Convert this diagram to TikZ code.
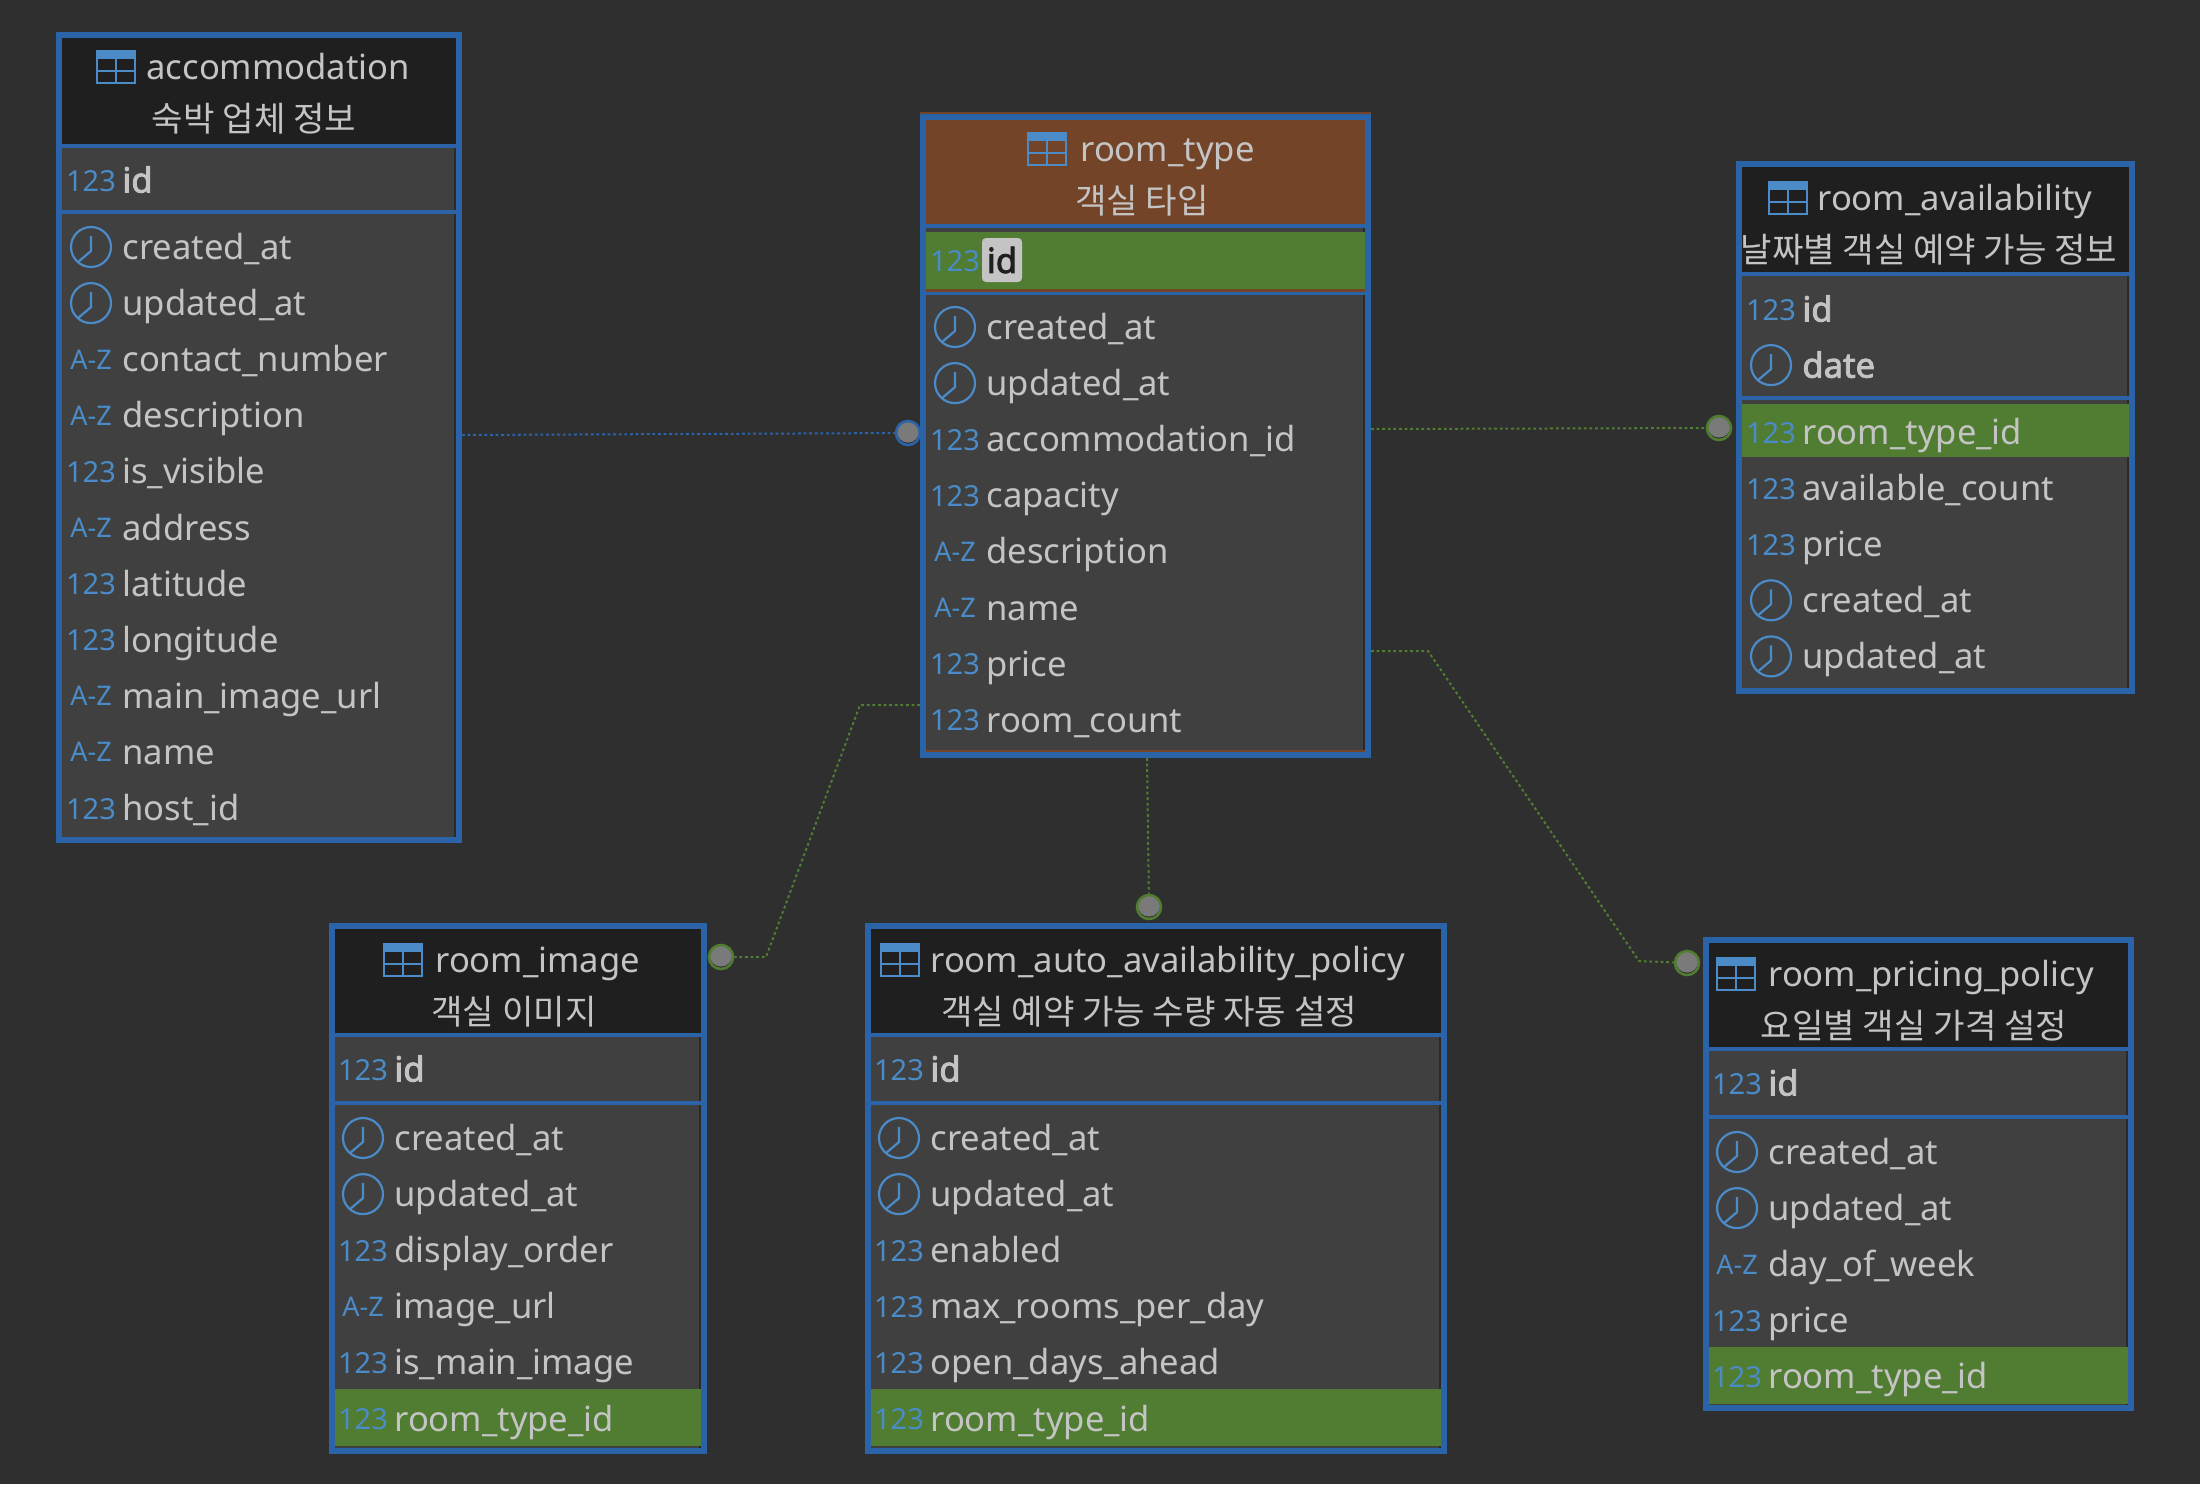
\documentclass[tikz,border=0pt]{standalone}
\usepackage{fontspec}
\setmainfont{Noto Sans}[AutoFakeBold=2.5]
\newfontfamily\krfont{Noto Sans CJK KR}

\definecolor{canvasgrey}{HTML}{2F2F2F}
\definecolor{rowgrey}{HTML}{404040}
\definecolor{rowedge}{HTML}{2A2A2A}
\definecolor{headdark}{HTML}{1F1F1F}
\definecolor{headbrown}{HTML}{744428}
\definecolor{frameblue}{HTML}{2B63A8}
\definecolor{iconblue}{HTML}{4A8BC8}
\definecolor{labelgrey}{HTML}{C4C4C4}
\definecolor{keygreen}{HTML}{507D31}
\definecolor{bulletgrey}{HTML}{7A7A7A}

\tikzset{
  tableframe/.style={draw=frameblue, line width=3pt, anchor=north west, inner sep=0pt, outer sep=0pt},
  sepline/.style={draw=frameblue, line width=2pt},
  iconline/.style={draw=iconblue, line width=1.1pt},
  clockdial/.style={circle, draw=iconblue, line width=1.1pt, minimum size=20pt, inner sep=0pt},
  typelabel/.style={text=iconblue, font=\fontsize{14.5}{16}\selectfont, anchor=base, inner sep=0pt},
  alphalabel/.style={typelabel, font=\fontsize{13.5}{16}\selectfont},
  fieldtext/.style={text=labelgrey, font=\fontsize{17.3}{20}\selectfont, anchor=base west, inner sep=0pt},
  subtext/.style={text=labelgrey, font=\krfont\fontsize{17.1}{18}\selectfont, anchor=base, inner sep=0pt},
  fklink/.style={draw=#1, line width=1pt, dash pattern=on 1.4pt off 1.4pt},
  fkbullet/.style={circle, draw=#1, line width=1.3pt, fill=rowedge, minimum size=12pt, inner sep=0pt,
    path picture={\fill[bulletgrey] ([yshift=0.8pt]path picture bounding box.center) circle (5.6pt);}}
}

% field type icons: node name, centre x, centre y
\newcommand{\iconnum}[3]{\node (#1) [typelabel] at ({#2},{#3+11}) {123};}
\newcommand{\iconalpha}[3]{\node (#1) [alphalabel] at ({#2},{#3+10}) {A-Z};}
\newcommand{\iconclock}[3]{%
  \node (#1) [clockdial] at ({#2},{#3}) {};
  \draw[iconline] ([yshift=5.5pt]#1.center) -- ([yshift=-2pt]#1.center) -- ([xshift=-6.5pt,yshift=-7.5pt]#1.center);
}

% frame: name, left, top, right, bottom, header colour, header line, key line
\newcommand{\dbframe}[8]{%
  \fill[rowgrey] (#2,#3) rectangle (#4,#5);
  \fill[#6] (#2,#3) rectangle (#4,#7);
  \draw[rowedge, line width=1pt] ({#4-7},#7) -- ({#4-7},#5);
  \draw[sepline] (#2,#7) -- (#4,#7);
  \draw[sepline] (#2,#8) -- (#4,#8);
  \node (#1) [tableframe, minimum width={(#4-#2-6)*0.5pt}, minimum height={(#5-#3-6)*0.5pt}] at ({#2+3},{#3+3}) {};
}

% title: name, icon left, title left, title y, title, subtitle centre x, subtitle
\newcommand{\dbtitle}[7]{%
  \begin{scope}[shift={(#2,{#4-16})}]
    \draw[iconline] (0,0) rectangle (38,32);
    \fill[iconblue] (0,0) rectangle (38,8);
    \draw[iconline] (0,20) -- (38,20);
    \draw[iconline] (19,0) -- (19,32);
  \end{scope}
  \node (#1-title) [fieldtext] at (#3,{#4+12.5}) {#5};
  \node (#1-sub) [subtext] at (#6,{#4+64}) {#7};
}

% rows: [font], name, left, first row y, list of type/text
\newcommand{\dbrows}[5][]{%
  \foreach \ftype/\fname [count=\rowno from 0] in {#5} {
    \csname icon\ftype\endcsname{#2-icon\rowno}{#3+35}{#4+56.1*\rowno}
    \node (#2-text\rowno) [fieldtext] at ({#3+66},{#4+56.1*\rowno+12.5}) {#1\fname};
  }
}

\begin{document}
\begin{tikzpicture}[x=0.5pt,y=-0.5pt]
    \fill[canvasgrey] (0,0) rectangle (2200,1484);
    \useasboundingbox (0,0) rectangle (2200,1484);

    % Table accommodation
    \dbframe{accom}{56}{32}{462}{843}{headdark}{146}{212}
    \dbtitle{accom}{97}{146}{67}{accommodation}{254}{숙박 업체 정보}
    \dbrows[\bfseries]{accomkey}{56}{180}{num/id}
    \dbrows{accom}{56}{247}{clock/created\_at, clock/updated\_at, alpha/contact\_number, alpha/description,
      num/is\_visible, alpha/address, num/latitude, num/longitude, alpha/main\_image\_url, alpha/name, num/host\_id}

    % Table room_type
    \fill[headbrown] (920,112) rectangle (1371,118);
    \dbframe{rtype}{920}{114}{1371}{758}{headbrown}{226}{293}
    \fill[keygreen] (926,232) rectangle (1365,290);
    \fill[headbrown] (926,289) rectangle (1365,292);
    \fill[headbrown] (926,750) rectangle (1365,752);
    \dbtitle{rtype}{1028}{1080}{149}{room\_type}{1142}{객실 타입}
    \iconnum{rtypekey-icon0}{955}{260}
    \node (rtypekey-text0) [fill=labelgrey, text=headdark, rounded corners=2pt, inner sep=0pt, minimum width=20pt, minimum height=22pt,
      font=\fontsize{17.3}{20}\selectfont\bfseries] at (1002,260) {id};
    \dbrows{rtype}{920}{327}{clock/created\_at, clock/updated\_at, num/accommodation\_id, num/capacity,
      alpha/description, alpha/name, num/price, num/room\_count}

    % Table room_availability
    \dbframe{avail}{1736}{161}{2135}{694}{headdark}{274}{398}
    \fill[keygreen] (1742,404) rectangle (2129,457);
    \dbtitle{avail}{1769}{1817}{198}{room\_availability}{1929}{날짜별 객실 예약 가능 정보}
    \dbrows[\bfseries]{availkey}{1736}{309}{num/id, clock/date}
    \dbrows{avail}{1736}{432}{num/room\_type\_id, num/available\_count, num/price, clock/created\_at, clock/updated\_at}

    % Table room_image
    \dbframe{rimage}{329}{923}{707}{1454}{headdark}{1035}{1103}
    \fill[keygreen] (335,1389) rectangle (701,1446);
    \dbtitle{rimage}{384}{435}{960}{room\_image}{514}{객실 이미지}
    \dbrows[\bfseries]{rimagekey}{328}{1069}{num/id}
    \dbrows{rimage}{328}{1138}{clock/created\_at, clock/updated\_at, num/display\_order, alpha/image\_url,
      num/is\_main\_image, num/room\_type\_id}

    % Table room_auto_availability_policy
    \dbframe{rauto}{865}{923}{1447}{1454}{headdark}{1035}{1103}
    \fill[keygreen] (871,1389) rectangle (1441,1446);
    \dbtitle{rauto}{881}{930}{960}{room\_auto\_availability\_policy}{1149}{객실 예약 가능 수량 자동 설정}
    \dbrows[\bfseries]{rautokey}{864}{1069}{num/id}
    \dbrows{rauto}{864}{1138}{clock/created\_at, clock/updated\_at, num/enabled, num/max\_rooms\_per\_day,
      num/open\_days\_ahead, num/room\_type\_id}

    % Table room_pricing_policy
    \dbframe{rprice}{1703}{937}{2134}{1411}{headdark}{1049}{1117}
    \fill[keygreen] (1709,1347) rectangle (2128,1404);
    \dbtitle{rprice}{1717}{1768}{974}{room\_pricing\_policy}{1914}{요일별 객실 가격 설정}
    \dbrows[\bfseries]{rpricekey}{1702}{1083}{num/id}
    \dbrows{rprice}{1702}{1152}{clock/created\_at, clock/updated\_at, alpha/day\_of\_week, num/price, num/room\_type\_id}

    % Bullets on the child side
    \node (accomBullet) [fkbullet=frameblue] at (908,433) {};
    \node (availBullet) [fkbullet=keygreen] at (1719,428) {};
    \node (imageBullet) [fkbullet=keygreen] at (721,957) {};
    \node (autoBullet) [fkbullet=keygreen] at (1149,907) {};
    \node (priceBullet) [fkbullet=keygreen] at (1687,963) {};

    % Connector ends at the table edges
    \coordinate (accomOut) at (462,435);
    \coordinate (availOut) at (1371,429);
    \coordinate (imageOut) at (920,705);
    \coordinate (imageBendA) at (860,705);
    \coordinate (imageBendB) at (766,957);
    \coordinate (autoOut) at (1147,758);
    \coordinate (priceOut) at (1371,651);
    \coordinate (priceBendA) at (1428,651);
    \coordinate (priceBendB) at (1639,961);

    % Connectors
    \draw[fklink=frameblue] (accomOut) -- (accomBullet);
    \draw[fklink=keygreen] (availOut) -- (availBullet);
    \draw[fklink=keygreen] (imageOut) -- (imageBendA) -- (imageBendB) -- (imageBullet);
    \draw[fklink=keygreen] (autoOut) -- (autoBullet);
    \draw[fklink=keygreen] (priceOut) -- (priceBendA) -- (priceBendB) -- (priceBullet);
\end{tikzpicture}
\end{document}
